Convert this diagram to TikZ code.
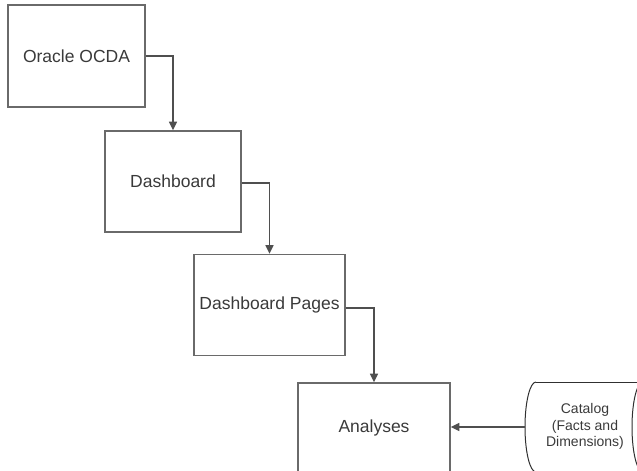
\documentclass[tikz,border=0pt]{standalone}
\usepackage{fontspec}
\setmainfont{Liberation Sans}
\usetikzlibrary{arrows.meta}
\definecolor{boxline}{HTML}{6A6A6A}
\definecolor{txt}{HTML}{3A3A3A}
\definecolor{catline}{HTML}{303030}
\tikzset{
  box/.style={draw=boxline, line width=1.7pt, fill=white, inner sep=0pt,
    text=txt, font=\fontsize{17.5}{21}\selectfont},
  conn/.style={draw=catline!85, line width=1.3pt, -{Triangle[length=8.5pt,width=8pt]}},
  drum/.style={draw=catline, line width=1pt},
  cattext/.style={text=txt, align=center, inner sep=0pt,
    font=\fontsize{14}{16.5}\selectfont}
}
\begin{document}
\begin{tikzpicture}[x=1pt,y=-1pt]
\useasboundingbox (0,0) rectangle (637,471);
\clip (0,0) rectangle (637,471);
\node[box, minimum width=137pt, minimum height=102pt] (b1) at (76.5,56) {Oracle OCDA};
\node[box, minimum width=136pt, minimum height=101pt] (b2) at (173,181.5) {Dashboard};
\node[box, minimum width=151pt, minimum height=101pt] (b3) at (269.5,305) {Dashboard Pages};
\node[box, minimum width=152pt, minimum height=90pt] (b4) at (374,428) {Analyses};
% catalog drum
\draw[drum] (536,382) arc[start angle=270, end angle=90, x radius=11, y radius=45]
  -- (643,472);
\draw[drum] (536,382) -- (643,382);
\draw[drum] (643,427) ellipse[x radius=11, y radius=45];
\coordinate (catl) at (525,427);
\node[cattext] (cat) at (585,426.5) {Catalog\\(Facts and\\Dimensions)};
\draw[conn] (b1.east) -| (b2.north);
\draw[conn] ([yshift=-1.5pt]b2.east) -| (b3.north);
\draw[conn] ([yshift=-3pt]b3.east) -| (b4.north);
\draw[conn] (catl) -- (b4.east |- catl);
\end{tikzpicture}
\end{document}
